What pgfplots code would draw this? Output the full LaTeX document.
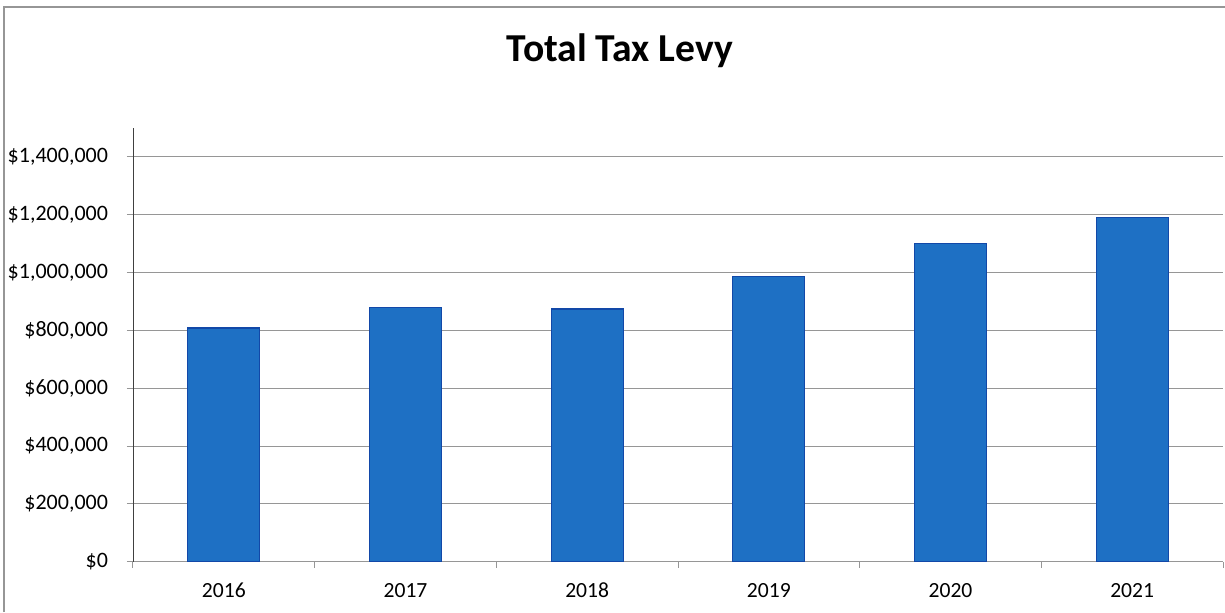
\documentclass[border=0pt]{standalone}
\usepackage{fontspec}
\setmainfont{Carlito}
\usepackage{pgfplots}
\pgfplotsset{compat=1.18}
\definecolor{barfill}{RGB}{30,112,196}
\definecolor{baredge}{RGB}{18,72,168}
\definecolor{gridgray}{RGB}{150,150,150}
\begin{document}
\begin{tikzpicture}
\useasboundingbox (0,0) rectangle (612.5pt,306pt);
\draw[gridgray, line width=0.6pt] (2pt,0) -- (2pt,302.5pt) -- (612.5pt,302.5pt);
\node[anchor=base, font={\fontsize{19.8}{23}\selectfont\bfseries}] at (310pt,275pt) {Total Tax Levy};
\begin{axis}[
  at={(66.5pt,25.15pt)}, anchor=south west,
  width=545pt, height=216.9pt, scale only axis,
  ybar, bar width=36pt,
  xmin=-0.5, xmax=5.5, ymin=0, ymax=1500000,
  axis x line=bottom, axis y line=left,
  axis line style={-},
  x axis line style={gridgray},
  y axis line style={black!75},
  xtick={-0.5,0.5,1.5,2.5,3.5,4.5,5.5},
  xticklabels={2016,2017,2018,2019,2020,2021},
  x tick label as interval,
  x tick style={draw=gridgray, line width=0.5pt},
  ytick={0,200000,400000,600000,800000,1000000,1200000,1400000},
  scaled y ticks=false,
  yticklabel={\$\pgfmathprintnumber{\tick}},
  /pgf/number format/.cd, fixed, 1000 sep={,}, assume math mode=true,
  /pgfplots/.cd,
  ymajorgrids, grid style={gridgray, line width=0.5pt},
  y tick style={draw=gridgray, line width=0.5pt},
  tick align=outside, major tick length=3pt,
  yticklabel style={font={\fontsize{11}{13}\selectfont}, xshift=-6pt},
  xticklabel style={font={\fontsize{10.8}{13}\selectfont}, yshift=-4pt, text height=7.5pt, text depth=0pt},
  clip=false,
]
\addplot[fill=barfill, draw=baredge, line width=0.6pt] coordinates {
  (0,808000) (1,878000) (2,874000) (3,985000) (4,1099000) (5,1191000)
};
\end{axis}
\end{tikzpicture}
\end{document}
